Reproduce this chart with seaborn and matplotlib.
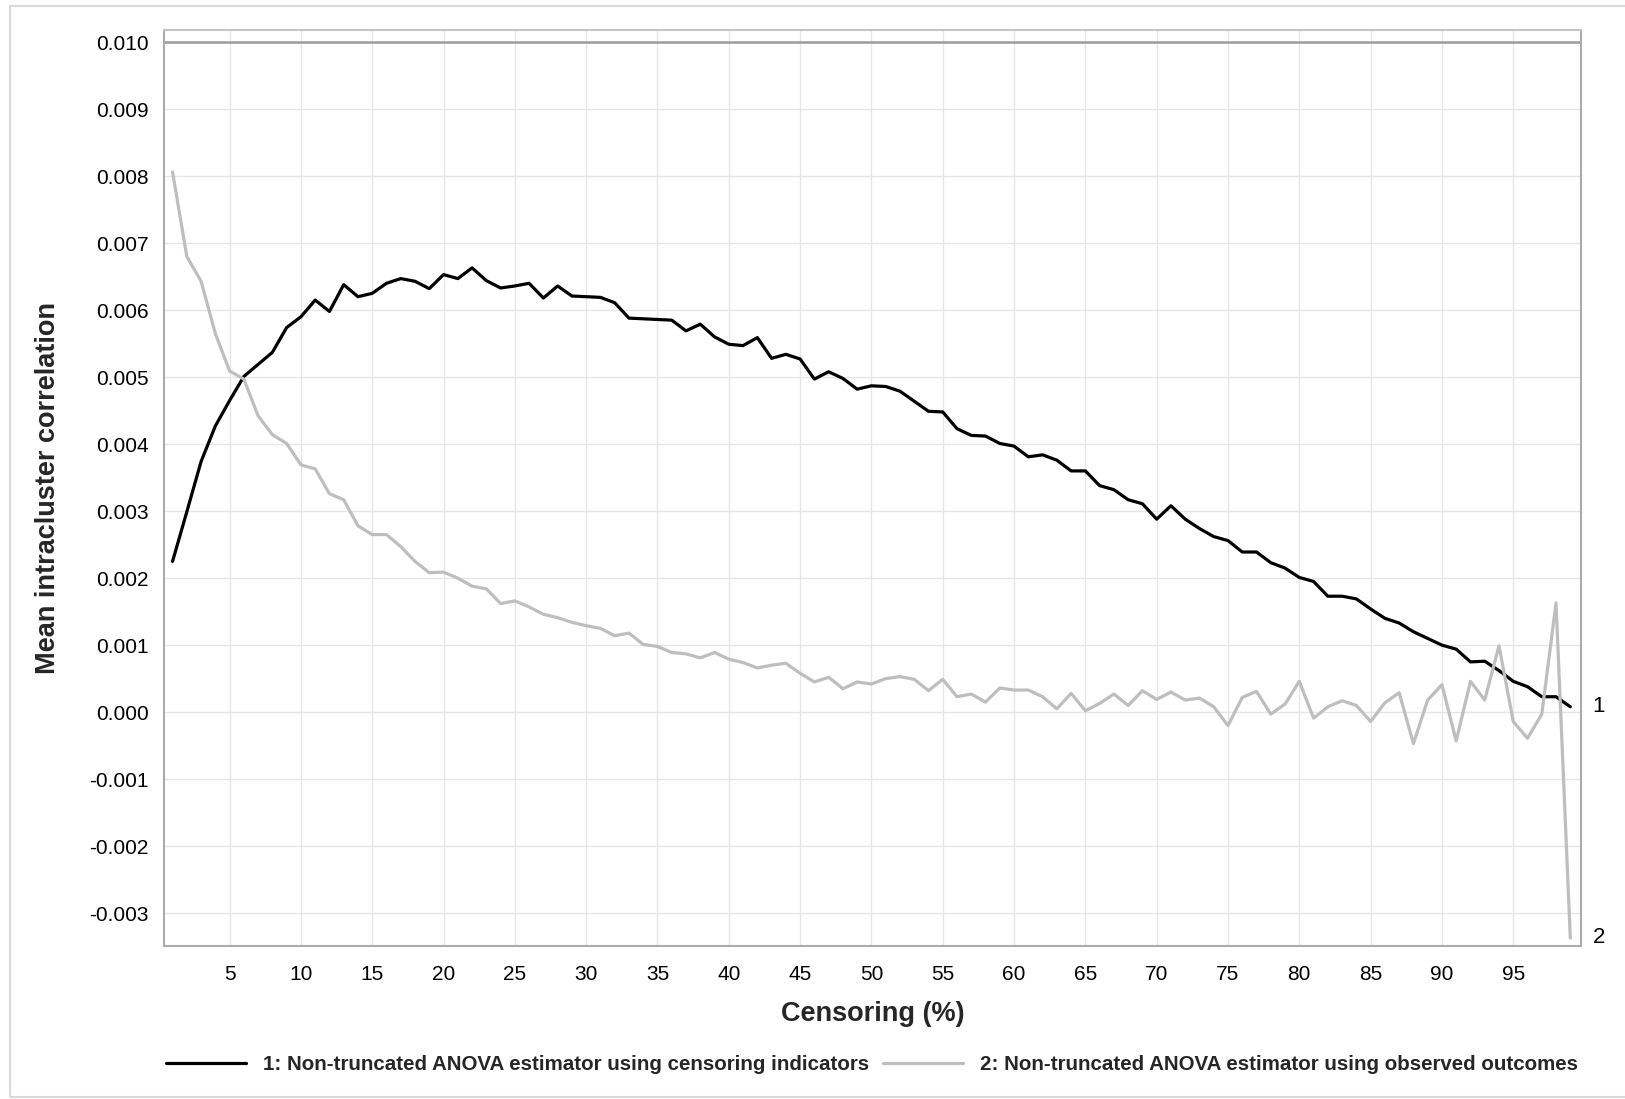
import numpy as np
import pandas as pd
import matplotlib
matplotlib.use("Agg")
import matplotlib.pyplot as plt
import matplotlib.ticker as mticker
from matplotlib.patches import Rectangle
import seaborn as sns

# Censoring percentage (1..99)
censoring = list(range(1, 100))

# Mean ICC (x 1e-3), estimator using censoring indicators
icc_indicators = [
    2.25, 2.99, 3.74, 4.27, 4.65, 5.01, 5.19, 5.37, 5.74, 5.90,
    6.15, 5.98, 6.38, 6.20, 6.25, 6.40, 6.47, 6.43, 6.32, 6.53,
    6.47, 6.63, 6.44, 6.33, 6.36, 6.40, 6.18, 6.36, 6.21, 6.20,
    6.19, 6.11, 5.88, 5.87, 5.86, 5.85, 5.69, 5.79, 5.60, 5.49,
    5.47, 5.59, 5.28, 5.34, 5.27, 4.97, 5.08, 4.98, 4.82, 4.87,
    4.86, 4.79, 4.64, 4.49, 4.48, 4.23, 4.13, 4.12, 4.01, 3.97,
    3.81, 3.84, 3.76, 3.60, 3.60, 3.38, 3.32, 3.17, 3.11, 2.88,
    3.08, 2.88, 2.74, 2.62, 2.56, 2.39, 2.39, 2.23, 2.15, 2.01,
    1.95, 1.73, 1.73, 1.69, 1.54, 1.40, 1.33, 1.20, 1.10, 1.00,
    0.94, 0.75, 0.76, 0.62, 0.46, 0.38, 0.23, 0.23, 0.08,
]

# Mean ICC (x 1e-3), estimator using observed outcomes
icc_outcomes = [
    8.06, 6.80, 6.43, 5.65, 5.09, 4.97, 4.42, 4.14, 4.01, 3.69,
    3.63, 3.26, 3.17, 2.78, 2.65, 2.65, 2.47, 2.25, 2.08, 2.09,
    2.00, 1.88, 1.84, 1.62, 1.66, 1.57, 1.46, 1.41, 1.34, 1.29,
    1.25, 1.14, 1.18, 1.01, 0.98, 0.89, 0.87, 0.81, 0.89, 0.79,
    0.74, 0.66, 0.70, 0.73, 0.58, 0.45, 0.52, 0.35, 0.45, 0.42,
    0.50, 0.53, 0.49, 0.32, 0.49, 0.23, 0.27, 0.15, 0.36, 0.33,
    0.33, 0.23, 0.05, 0.28, 0.02, 0.13, 0.27, 0.10, 0.32, 0.19,
    0.30, 0.18, 0.21, 0.08, -0.20, 0.22, 0.31, -0.03, 0.12, 0.46,
    -0.09, 0.08, 0.17, 0.10, -0.14, 0.14, 0.29, -0.47, 0.18, 0.41,
    -0.43, 0.46, 0.18, 0.99, -0.14, -0.39, -0.03, 1.63, -3.37,
]

series_names = [
    "1: Non-truncated ANOVA estimator using censoring indicators",
    "2: Non-truncated ANOVA estimator using observed outcomes",
]
series_tags = ["1", "2"]
series_colors = ["#000000", "#bebebe"]

y_ticks = [-0.003, -0.002, -0.001, 0.000, 0.001, 0.002, 0.003, 0.004,
           0.005, 0.006, 0.007, 0.008, 0.009, 0.010]
x_ticks = list(range(5, 100, 5))

df = pd.DataFrame({
    "Censoring (%)": censoring * 2,
    "icc": [v / 1000 for v in icc_indicators] + [v / 1000 for v in icc_outcomes],
    "series": [series_names[0]] * len(censoring) + [series_names[1]] * len(censoring),
})

sns.set_theme(style="whitegrid")
plt.rcParams["font.family"] = ["Liberation Sans", "DejaVu Sans"]

fig = plt.figure(figsize=(16.25, 10.99), dpi=100)
ax = fig.add_axes([164 / 1625, 1 - 946 / 1099, (1581 - 164) / 1625, (946 - 30) / 1099])

sns.lineplot(data=df, x="Censoring (%)", y="icc", hue="series",
             hue_order=series_names, palette=dict(zip(series_names, series_colors)),
             linewidth=2.3, ax=ax, legend=True)

ax.set_xlim(0.4, 99.75)
ax.set_ylim(-0.00349, 0.01018)
ax.set_xticks(x_ticks)
ax.set_yticks(y_ticks)
ax.yaxis.set_major_formatter(mticker.FuncFormatter(lambda v, p: f"{v:.3f}".replace("\u2212", "-")))

ax.axhline(0.010, color="#9c9c9c", linewidth=1.8, zorder=1)

ax.grid(True, color="#e6e6e6", linewidth=1.0)
ax.set_axisbelow(True)
for s in ax.spines.values():
    s.set_color("#ababab")
    s.set_linewidth(1.5)
    s.set_visible(True)
ax.spines["top"].set_color("#c4c4c4")

ax.tick_params(axis="both", which="major", length=6, width=1.2, color="#a0a0a0",
               labelsize=15, labelcolor="black", pad=5)
ax.tick_params(axis="x", pad=8)

ax.set_xlabel("Censoring (%)", fontsize=19.5, fontweight="bold", labelpad=12)
ax.set_ylabel("Mean intracluster correlation", fontsize=19.5, fontweight="bold", labelpad=20)

# End-of-line tags
for tag, vals in zip(series_tags, [icc_indicators, icc_outcomes]):
    ax.annotate(tag, xy=(censoring[-1], vals[-1] / 1000), xytext=(16, 0),
                textcoords="offset points", ha="left", va="center",
                fontsize=16, color="black", annotation_clip=False)

handles, labels = ax.get_legend_handles_labels()
ax.get_legend().remove()
fig.legend(handles, labels, loc="center", ncol=2,
           bbox_to_anchor=(872 / 1625, 1 - 1065 / 1099),
           frameon=False, handlelength=3.9, handletextpad=0.8, columnspacing=0.7,
           prop={"size": 14.8, "weight": "bold"})

# Outer frame
fig.patches.append(Rectangle((10 / 1625, 2 / 1099), 1.0, 1 - 8 / 1099,
                             transform=fig.transFigure, fill=False,
                             edgecolor="#d9d9d9", linewidth=1.5))

fig.savefig("out.png", dpi=100, facecolor="white")
